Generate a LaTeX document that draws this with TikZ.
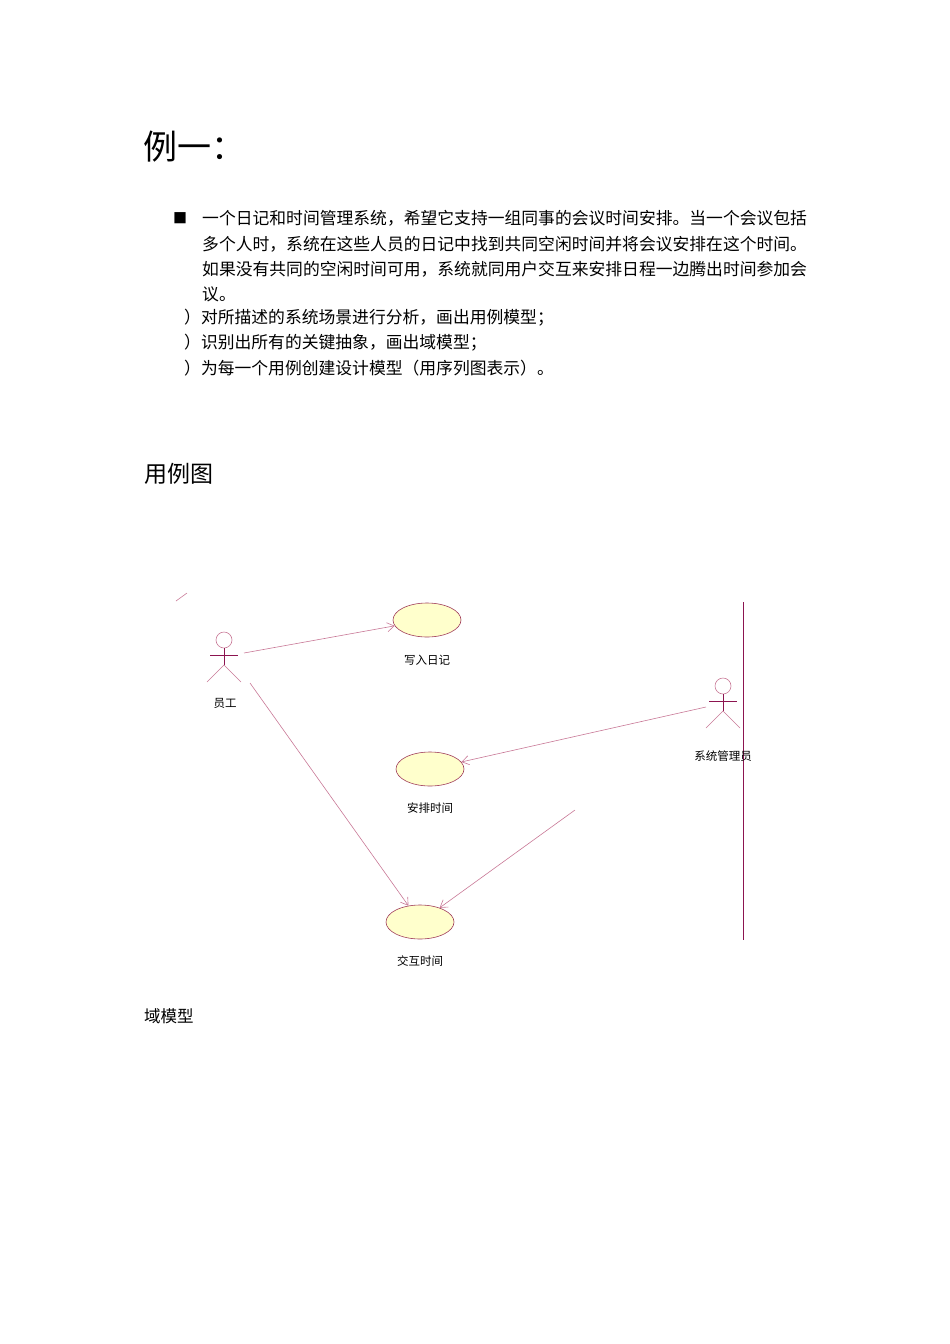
\documentclass[tikz,border=0pt]{standalone}
\usepackage{fontspec}
\setmainfont{Noto Sans CJK SC}
\usetikzlibrary{arrows.meta,shapes.geometric}
\definecolor{lnk}{RGB}{200,120,150}
\definecolor{act}{RGB}{140,20,80}
\definecolor{ucf}{RGB}{255,255,204}
\definecolor{ucd}{RGB}{160,60,90}
\tikzset{
 uc/.style={ellipse,draw=ucd,fill=ucf,minimum width=68pt,minimum height=34pt,inner sep=0pt,line width=0.6pt},
 lbl/.style={font=\fontsize{11.5}{13}\selectfont},
 body/.style={anchor=west,font=\fontsize{16.8}{18}\selectfont,inner sep=0pt},
 assoc/.style={draw=lnk,line width=0.6pt,-{Straight Barb[length=7pt,width=9pt]}},
 actorline/.style={draw=act,line width=0.6pt}
}
\newcommand{\myactor}[2]{%
 \draw[draw=lnk,line width=0.6pt] (#1,#2) circle (8pt);
 \draw[actorline] (#1,#2+8) -- (#1,#2+25);
 \draw[actorline,line width=1pt] (#1-14,#2+15) -- (#1+14,#2+15);
 \draw[draw=lnk,line width=0.6pt] (#1-17,#2+42) -- (#1,#2+25) -- (#1+17,#2+42);
}
\begin{document}
\begin{tikzpicture}[x=1pt,y=-1pt]
\useasboundingbox (0,0) rectangle (950,1344);
\node[anchor=west,font=\fontsize{34}{36}\selectfont,inner sep=0pt] (title) at (143,147) {例一：};
\node[anchor=west,font=\fontsize{14}{14}\selectfont,inner sep=0pt] (bul) at (173,218) {■};
\node[body] (l1) at (202,218) {一个日记和时间管理系统，希望它支持一组同事的会议时间安排。当一个会议包括};
\node[body] (l2) at (202,244) {多个人时，系统在这些人员的日记中找到共同空闲时间并将会议安排在这个时间。};
\node[body] (l3) at (202,269) {如果没有共同的空闲时间可用，系统就同用户交互来安排日程一边腾出时间参加会};
\node[body] (l4) at (202,294) {议。};
\node[body] (q1) at (184,318) {）对所描述的系统场景进行分析，画出用例模型；};
\node[body] (q2) at (184,343) {）识别出所有的关键抽象，画出域模型；};
\node[body] (q3) at (184,368) {）为每一个用例创建设计模型（用序列图表示）。};
\node[anchor=west,font=\fontsize{23}{25}\selectfont,inner sep=0pt] (h2) at (144,474) {用例图};
\node[anchor=west,font=\fontsize{16.5}{18}\selectfont,inner sep=0pt] (h3) at (144,1016) {域模型};

\draw[draw=lnk,line width=0.6pt] (176,601) -- (187,593);
\draw[draw=act,line width=1pt] (743,602) -- (743,940);

\myactor{224}{640}
\node[lbl] (emp) at (225,703) {员工};
\myactor{723}{686}
\node[lbl] (adm) at (723,756) {系统管理员};
\coordinate (empA) at (244,653);
\coordinate (empB) at (250,683);
\coordinate (admA) at (706,707);
\coordinate (free) at (575,810);

\node[uc] (u1) at (427,620) {};
\node[lbl] (t1) at (427,660) {写入日记};
\node[uc] (u2) at (430,769) {};
\node[lbl] (t2) at (430,808) {安排时间};
\node[uc] (u3) at (420,922) {};
\node[lbl] (t3) at (420,961) {交互时间};

\draw[assoc] (empA) -- (u1);
\draw[assoc] (admA) -- (u2);
\draw[assoc] (empB) -- (u3);
\draw[assoc] (free) -- (u3);
\end{tikzpicture}
\end{document}
